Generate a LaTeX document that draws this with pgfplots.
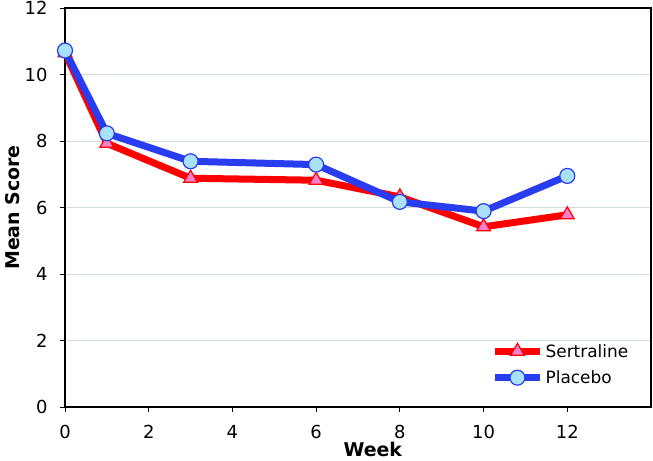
\documentclass[border=0pt]{standalone}
\usepackage{pgfplots}
\pgfplotsset{compat=1.18}
\usepackage{fontspec}
\setmainfont{DejaVu Sans}
\definecolor{sred}{RGB}{255,0,0}
\definecolor{sfill}{RGB}{255,128,200}
\definecolor{pblue}{RGB}{40,60,240}
\definecolor{pfill}{RGB}{170,225,250}
\definecolor{gridc}{RGB}{210,220,220}
\begin{document}
\begin{tikzpicture}
\begin{axis}[
  scale only axis,
  width=586bp, height=399bp,
  xmin=0, xmax=14, ymin=0, ymax=12,
  xtick={0,2,...,12}, ytick={0,2,...,12},
  axis line style={black, line width=2pt},
  tick style={black, line width=0.8pt},
  tick align=outside,
  major tick length=5bp,
  xtick pos=bottom, ytick pos=left,
  ymajorgrids, grid style={gridc, line width=0.8pt},
  /pgf/number format/assume math mode=true,
  ticklabel style={font=\fontsize{18}{21}\selectfont},
  xticklabel style={yshift=-10bp},
  yticklabel style={xshift=-9bp},
  xlabel={\textbf{Week}}, ylabel={\textbf{Mean Score}},
  label style={font=\fontsize{19}{22}\selectfont},
  xlabel style={yshift=4bp, xshift=15bp},
  ylabel style={yshift=-2bp},
  legend style={draw=none, fill=none, at={(0.965,0.05)}, anchor=south east,
    font=\fontsize{17}{20}\selectfont, row sep=8bp, inner sep=0pt,
    /tikz/every even column/.append style={column sep=2bp}},
  legend cell align=left,
  legend image code/.code={
    \draw[#1, mark repeat=2, mark phase=2] plot coordinates {(0cm,0cm) (0.8cm,0cm) (1.6cm,0cm)};
  },
]
\addplot[sred, line width=7bp, mark=triangle*, mark size=8bp,
  mark options={fill=sfill, draw=sred, line width=1.2bp}]
  coordinates {(0,10.65) (1,7.93) (3,6.88) (6,6.82) (8,6.32) (10,5.42) (12,5.78)};
\addlegendentry{Sertraline}
\addplot[pblue, line width=7bp, mark=*, mark size=7.5bp,
  mark options={fill=pfill, draw=pblue, line width=1.2bp}]
  coordinates {(0,10.72) (1,8.23) (3,7.39) (6,7.29) (8,6.17) (10,5.89) (12,6.95)};
\addlegendentry{Placebo}
\end{axis}
\pgfresetboundingbox
\path[use as bounding box] (current axis.south west) ++(-65bp,-54bp) rectangle ([shift={(2bp,8bp)}]current axis.north east);
\end{tikzpicture}
\end{document}
